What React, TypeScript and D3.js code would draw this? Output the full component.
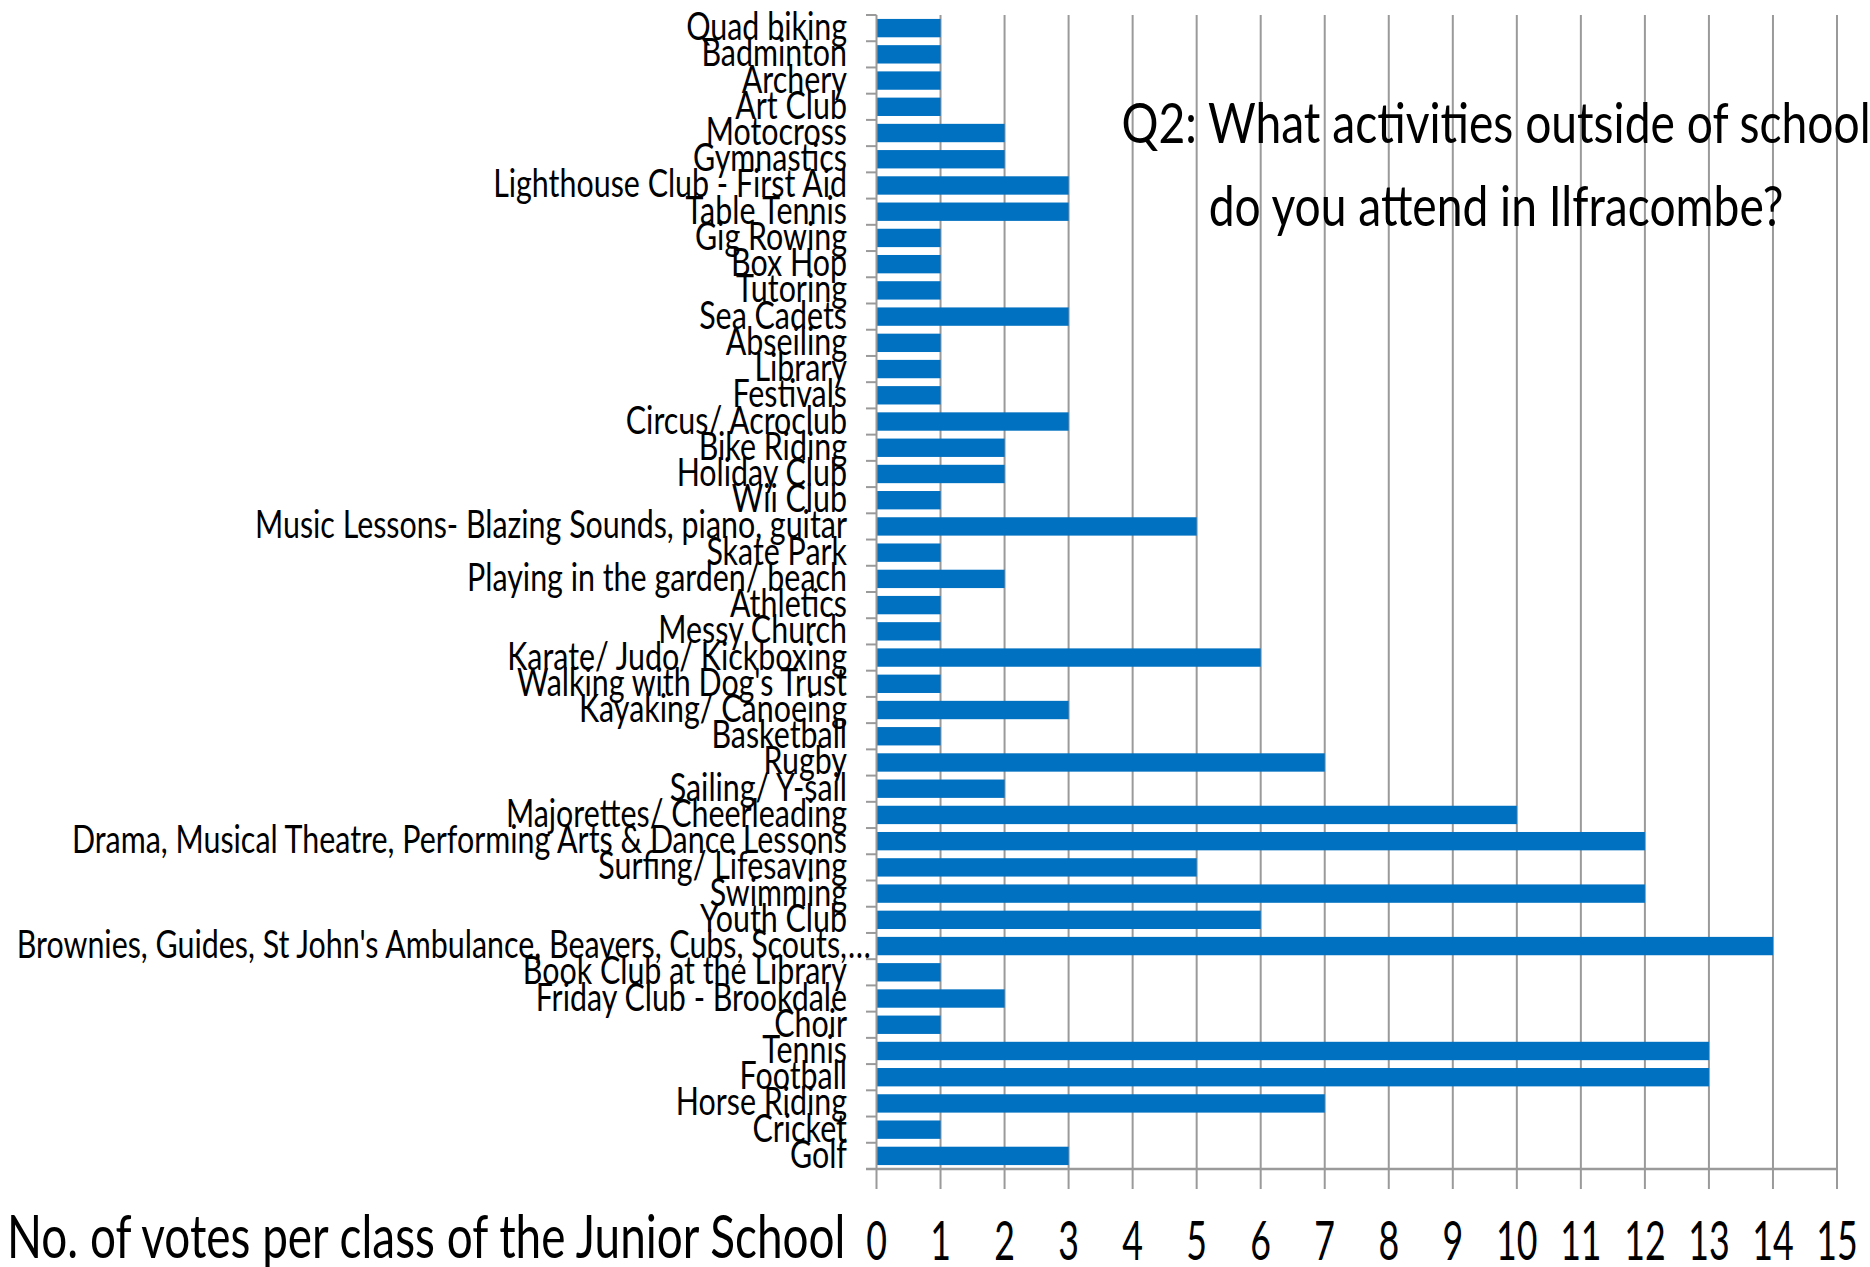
import React from "react";
import * as d3 from "d3";

const categories: string[] = [
  "Quad biking", "Badminton", "Archery", "Art Club", "Motocross", "Gymnastics",
  "Lighthouse Club - First Aid", "Table Tennis", "Gig Rowing", "Box Hop", "Tutoring",
  "Sea Cadets", "Abseiling", "Library", "Festivals", "Circus/ Acroclub", "Bike Riding",
  "Holiday Club", "Wii Club", "Music Lessons- Blazing Sounds, piano, guitar", "Skate Park",
  "Playing in the garden/ beach", "Athletics", "Messy Church", "Karate/ Judo/ Kickboxing",
  "Walking with Dog's Trust", "Kayaking/ Canoeing", "Basketball", "Rugby", "Sailing/ Y-sail",
  "Majorettes/ Cheerleading", "Drama, Musical Theatre, Performing Arts & Dance Lessons",
  "Surfing/ Lifesaving", "Swimming", "Youth Club",
  "Brownies, Guides, St John's Ambulance, Beavers, Cubs, Scouts,…",
  "Book Club at the Library", "Friday Club - Brookdale", "Choir", "Tennis", "Football",
  "Horse Riding", "Cricket", "Golf",
];

const votes: number[] = [
  1, 1, 1, 1, 2, 2,
  3, 3, 1, 1, 1,
  3, 1, 1, 1, 3, 2,
  2, 1, 5, 1,
  2, 1, 1, 6,
  1, 3, 1, 7, 2,
  10, 12,
  5, 12, 6,
  14,
  1, 2, 1, 13, 13,
  7, 1, 3,
];

const xTicks: number[] = d3.range(0, 16);
const titleLines: string[] = ["Q2: What activities outside of school", "do you attend in Ilfracombe?"];
const axisTitle = "No. of votes per class of the Junior School";

const W = 1870;
const H = 1267;
const FONT = "Lato, 'Open Sans', sans-serif";

function SText({ x, y, sx, size, anchor, children }: any) {
  return (
    <g transform={`translate(${x},${y}) scale(${sx},1)`}>
      <text fontFamily={FONT} fontSize={size} textAnchor={anchor} fill="#000">
        {children}
      </text>
    </g>
  );
}

export default function App() {
  const x0 = 876.5;
  const x = d3.scaleLinear().domain([0, 15]).range([x0, 1837]);
  const y = d3
    .scaleBand<string>()
    .domain(categories)
    .range([15, 1169])
    .paddingInner(0.3)
    .paddingOuter(0.15);
  const step = y.step();
  const boundaries = d3.range(0, categories.length + 1).map((i) => 15 + i * step);
  const gridColor = "#9a9a9a";
  const labelX = 847;
  const labelSx = 0.8;

  return (
    <svg
      width={W}
      height={H}
      style={{ position: "absolute", left: 0, top: 0, background: "#fff" }}
    >
      <rect x={0} y={0} width={W} height={H} fill="#fff" />
      {/* vertical gridlines */}
      {xTicks.slice(1).map((t) => (
        <line key={t} x1={x(t)} x2={x(t)} y1={15} y2={1189} stroke={gridColor} strokeWidth={2} />
      ))}
      {/* title */}
      {titleLines.map((l, i) => (
        <SText key={i} x={1496} y={143 + i * 83} sx={0.81} size={57} anchor="middle">
          {l}
        </SText>
      ))}
      {/* bars */}
      {categories.map((c, i) => (
        <rect
          key={c}
          x={x(0)}
          y={y(c)!}
          width={x(votes[i]) - x(0)}
          height={y.bandwidth()}
          fill="#0070C0"
        />
      ))}
      {/* y axis */}
      <line x1={x0} x2={x0} y1={15} y2={1189} stroke={gridColor} strokeWidth={2} />
      {boundaries.map((b, i) => (
        <line key={i} x1={866} x2={x0} y1={b} y2={b} stroke={gridColor} strokeWidth={2} />
      ))}
      {/* x axis */}
      <line x1={866} x2={x(15) + 1} y1={1169} y2={1169} stroke={gridColor} strokeWidth={2.5} />
      {xTicks.map((t) => (
        <SText key={t} x={x(t)} y={1260} sx={0.65} size={55} anchor="middle">
          {String(t)}
        </SText>
      ))}
      {/* category labels */}
      {categories.map((c) => {
        const cy = y(c)! + y.bandwidth() / 2 + 12;
        const truncated = c.endsWith("…");
        return (
          <g key={c}>
            <SText x={labelX} y={cy} sx={labelSx} size={38} anchor="end">
              {truncated ? c.slice(0, -1) : c}
            </SText>
            {truncated && (
              <SText x={labelX + 1} y={cy} sx={labelSx} size={38} anchor="start">
                {"…"}
              </SText>
            )}
          </g>
        );
      })}
      {/* axis title */}
      <SText x={7} y={1258} sx={0.765} size={60} anchor="start">
        {axisTitle}
      </SText>
    </svg>
  );
}
